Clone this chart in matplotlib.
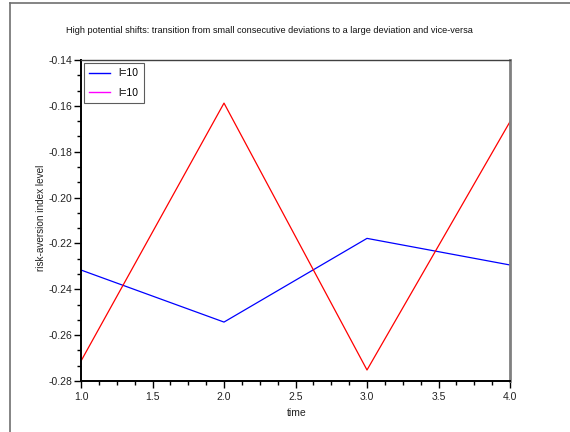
import matplotlib
matplotlib.use("Agg")
import matplotlib.pyplot as plt
from matplotlib.lines import Line2D
from matplotlib.ticker import MultipleLocator, AutoMinorLocator, FormatStrFormatter

time = [1, 2, 3, 4]
series_blue = [-0.2316, -0.2543, -0.2178, -0.2294]
series_red = [-0.2713, -0.1588, -0.2752, -0.1669]
legend_labels = ["l=10", "l=10"]
title = "High potential shifts: transition from small consecutive deviations to a large deviation and vice-versa"

plt.rcParams['font.family'] = ['Liberation Sans', 'DejaVu Sans']

W, H = 570, 432
fig = plt.figure(figsize=(W / 100, H / 100), dpi=100)
fig.patch.set_facecolor('white')

ax = fig.add_axes([81 / W, 1 - 381 / H, (510 - 81) / W, (381 - 60) / H])
ax.plot(time, series_blue, color='#0000ff', lw=0.9)
ax.plot(time, series_red, color='#ff0000', lw=0.9)

ax.set_xlim(1.0, 4.0)
ax.set_ylim(-0.28, -0.14)
ax.xaxis.set_major_locator(MultipleLocator(0.5))
ax.xaxis.set_minor_locator(AutoMinorLocator(4))
ax.yaxis.set_major_locator(MultipleLocator(0.02))
ax.yaxis.set_minor_locator(AutoMinorLocator(3))
ax.xaxis.set_major_formatter(FormatStrFormatter('%.1f'))
ax.yaxis.set_major_formatter(FormatStrFormatter('%.2f'))
ax.tick_params(which='major', direction='out', length=5, width=1, labelsize=7.5,
               colors='black', labelcolor='#222222', pad=1.5)
ax.tick_params(which='minor', direction='out', length=3, width=1)
ax.tick_params(axis='x', pad=3)

for s in ['left', 'bottom']:
    ax.spines[s].set_color('black')
    ax.spines[s].set_linewidth(1.4)
ax.spines['right'].set_color('#808080')
ax.spines['right'].set_linewidth(2)
ax.spines['top'].set_color('#404040')
ax.spines['top'].set_linewidth(1)

handles = [Line2D([], [], color='#0000ff', lw=1), Line2D([], [], color='#ff00ff', lw=1)]
leg = ax.legend(handles, legend_labels, loc='upper left', fontsize=7.5, frameon=True,
                fancybox=False, edgecolor='#333333', borderaxespad=0.3, handlelength=2.0,
                handletextpad=0.8, labelspacing=0.9, borderpad=0.5)
leg.get_frame().set_linewidth(0.8)

fig.text(269.5 / W, 1 - 30.5 / H, title, ha='center', va='center', fontsize=6.6,
         color='#111111')
fig.text(297 / W, 1 - 413 / H, "time", ha='center', va='center', fontsize=7.5,
         color='#222222')
fig.text(41 / W, 1 - 218 / H, "risk-aversion index level", ha='center', va='center',
         rotation=90, fontsize=7.2, color='#222222')

fig.add_artist(Line2D([9.5 / W, 9.5 / W], [0, 1 - 2.5 / H], transform=fig.transFigure,
                      color='#707070', lw=1.2))
fig.add_artist(Line2D([9.5 / W, 1], [1 - 2.5 / H, 1 - 2.5 / H], transform=fig.transFigure,
                      color='#707070', lw=1.2))

fig.savefig("out.png", dpi=100)
